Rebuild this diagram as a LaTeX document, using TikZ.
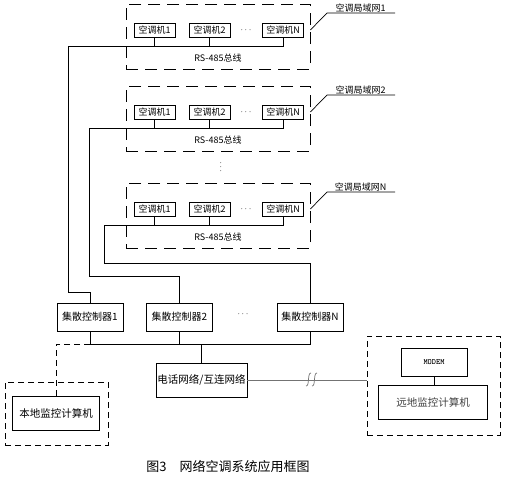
\documentclass[tikz,border=0pt]{standalone}
\usepackage{fontspec}
\newfontfamily\cjk{Noto Sans CJK SC}
\usetikzlibrary{positioning}
\tikzset{
  unit/.style={draw, inner sep=0pt, minimum width=41, minimum height=14, font=\cjk\fontsize{9}{9}\selectfont},
  ctrl/.style={draw, inner sep=0pt, minimum width=66, minimum height=28, font=\cjk\fontsize{10}{10}\selectfont},
  host/.style={draw, inner sep=0pt, minimum height=34, font=\cjk\fontsize{10.5}{11}\selectfont},
  lanbox/.style={draw, dash pattern=on 12pt off 7pt, inner sep=0pt, minimum width=184, minimum height=65},
  sitebox/.style={draw, dash pattern=on 6pt off 4pt, inner sep=0pt},
  tag/.style={inner sep=0pt, font=\cjk\fontsize{9}{9}\selectfont}
}
\begin{document}
\begin{tikzpicture}[x=1pt, y=-1pt, line width=0.7pt]
    \useasboundingbox (0,0) rectangle (505,477);
    % air-conditioner LANs
    \foreach \g/\t/\bx in {1/4/68, 2/86/89, N/183/104} {
      \node[lanbox] (lan\g) at (218, \t+32.5) {};
      \node[unit] (ac\g_1) at (154.5, \t+26) {空调机1};
      \node[unit] (ac\g_2) at (209.5, \t+26) {空调机2};
      \node[unit] (ac\g_N) at (283, \t+26) {空调机N};
      \node[tag] (dots\g) at (246, \t+26) {$\cdots$};
      \node[tag] (rs\g) at (218, \t+54) {RS-485总线};
      \node[tag, anchor=south east, minimum width=68] (lanlab\g) at (395, \t+9) {空调局域网\g};
      \coordinate (bus\g) at (\bx, \t+42);
      \draw (bus\g) -- (bus\g -| ac\g_N.south) -- (ac\g_N.south);
      \draw (ac\g_1.south) -- (ac\g_1.south |- bus\g);
      \draw (ac\g_2.south) -- (ac\g_2.south |- bus\g);
      \draw ([yshift=6.5pt]lan\g.east) -- ([xshift=-68pt]lanlab\g.south east) -- (lanlab\g.south east);
    }
    \node[tag, rotate=90] (vdots) at (221, 167) {$\cdots$};
    % controllers
    \node[ctrl] (ctrl1) at (90, 317) {集散控制器1};
    \node[ctrl] (ctrl2) at (179.5, 317) {集散控制器2};
    \node[ctrl] (ctrlN) at (310, 317) {集散控制器N};
    \node[tag] (cdots) at (243, 314) {$\cdots$};
    \draw (bus1) -- (68, 292) -| (ctrl1.north);
    \draw (bus2) -- (89, 276) -| (ctrl2.north);
    \draw (busN) -- (104, 263) -| (ctrlN.north);
    % network side
    \node[host, minimum width=91] (phone) at (201.5, 380) {电话网络/互连网络};
    \node[sitebox, minimum width=103, minimum height=63] (localsite) at (56.5, 413.5) {};
    \node[host, minimum width=87] (local) at (56, 413) {本地监控计算机};
    \node[sitebox, minimum width=133, minimum height=99] (remotesite) at (433.5, 385.5) {};
    \node[draw, inner sep=0pt, minimum width=66, minimum height=28, font=\ttfamily\bfseries\fontsize{8}{8}\selectfont] (modem) at (434, 362) {MODEM};
    \node[host, minimum width=109, text=black!75] (remote) at (433, 402) {远地监控计算机};
    \coordinate (cbus) at (90, 344);
    \draw (ctrl1.south) -- (cbus) -- (cbus -| ctrlN.south) -- (ctrlN.south);
    \draw (ctrl2.south) -- (ctrl2.south |- cbus);
    \draw (phone.north) -- (phone.north |- cbus);
    \draw[dash pattern=on 6pt off 4pt] (cbus) -| (local.north);
    \draw (modem.south) -- (modem.south |- remote.north);
    \draw[black!55] (phone.east) -- (phone.east -| remotesite.west);
    \draw[black!55] (306,386) .. controls (310,386) and (307,373) .. (311,373);
    \draw[black!55] (312,386) .. controls (316,386) and (313,373) .. (317,373);
    % caption
    \node[font=\cjk\fontsize{13}{14}\selectfont] (caption) at (228, 467) {图3\quad 网络空调系统应用框图};
\end{tikzpicture}
\end{document}
